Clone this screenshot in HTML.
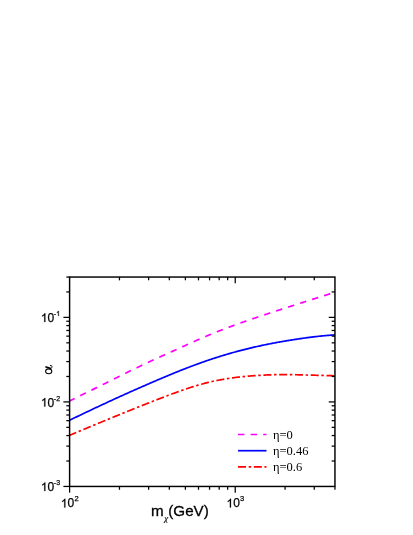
<!DOCTYPE html>
<html><head><meta charset="utf-8">
<style>
html,body{margin:0;padding:0;background:#fff;}
body{width:413px;height:535px;overflow:hidden;}
svg{display:block;}
text{font-family:"Liberation Sans",sans-serif;fill:#000;will-change:transform;}
.ser{font-family:"Liberation Serif",serif;}
</style></head><body>
<svg width="413" height="535" viewBox="0 0 413 535">
<rect width="413" height="535" fill="#fff"/>
<g fill="none" stroke-linecap="butt" stroke-linejoin="round" stroke-width="1.7">
<path d="M69.60,401.00 L70.60,400.51 L71.60,400.01 L72.59,399.52 L73.59,399.03 L74.59,398.53 L75.59,398.04 L76.58,397.54 L77.58,397.05 L78.58,396.56 L79.58,396.06 L80.57,395.57 L81.57,395.07 L82.57,394.58 L83.57,394.08 L84.56,393.59 L85.56,393.09 L86.56,392.60 L87.56,392.10 L88.55,391.61 L89.55,391.11 L90.55,390.62 L91.55,390.12 L92.54,389.63 L93.54,389.13 L94.54,388.63 L95.54,388.13 L96.53,387.64 L97.53,387.14 L98.53,386.64 L99.53,386.14 L100.52,385.65 L101.52,385.15 L102.52,384.65 L103.52,384.15 L104.51,383.65 L105.51,383.16 L106.51,382.66 L107.51,382.16 L108.50,381.66 L109.50,381.16 L110.50,380.67 L111.50,380.17 L112.49,379.67 L113.49,379.18 L114.49,378.68 L115.49,378.18 L116.49,377.69 L117.48,377.19 L118.48,376.70 L119.48,376.20 L120.48,375.71 L121.47,375.22 L122.47,374.72 L123.47,374.23 L124.47,373.74 L125.46,373.25 L126.46,372.76 L127.46,372.27 L128.46,371.78 L129.45,371.29 L130.45,370.80 L131.45,370.31 L132.45,369.83 L133.44,369.34 L134.44,368.86 L135.44,368.37 L136.44,367.89 L137.43,367.41 L138.43,366.93 L139.43,366.45 L140.43,365.97 L141.42,365.50 L142.42,365.02 L143.42,364.55 L144.42,364.08 L145.41,363.61 L146.41,363.14 L147.41,362.67 L148.41,362.20 L149.40,361.74 L150.40,361.28 L151.40,360.82 L152.40,360.36 L153.39,359.90 L154.39,359.44 L155.39,358.99 L156.39,358.53 L157.38,358.08 L158.38,357.63 L159.38,357.18 L160.38,356.73 L161.38,356.28 L162.37,355.83 L163.37,355.38 L164.37,354.93 L165.37,354.49 L166.36,354.04 L167.36,353.59 L168.36,353.14 L169.36,352.69 L170.35,352.24 L171.35,351.80 L172.35,351.35 L173.35,350.90 L174.34,350.44 L175.34,349.99 L176.34,349.54 L177.34,349.09 L178.33,348.63 L179.33,348.18 L180.33,347.72 L181.33,347.27 L182.32,346.81 L183.32,346.36 L184.32,345.90 L185.32,345.45 L186.31,345.00 L187.31,344.54 L188.31,344.09 L189.31,343.64 L190.30,343.19 L191.30,342.74 L192.30,342.29 L193.30,341.85 L194.29,341.40 L195.29,340.96 L196.29,340.51 L197.29,340.07 L198.28,339.63 L199.28,339.20 L200.28,338.76 L201.28,338.33 L202.28,337.90 L203.27,337.47 L204.27,337.04 L205.27,336.62 L206.27,336.20 L207.26,335.78 L208.26,335.36 L209.26,334.94 L210.26,334.53 L211.25,334.12 L212.25,333.71 L213.25,333.30 L214.25,332.89 L215.24,332.49 L216.24,332.09 L217.24,331.69 L218.24,331.29 L219.23,330.90 L220.23,330.51 L221.23,330.12 L222.23,329.73 L223.22,329.35 L224.22,328.97 L225.22,328.59 L226.22,328.21 L227.21,327.83 L228.21,327.46 L229.21,327.09 L230.21,326.72 L231.20,326.35 L232.20,325.98 L233.20,325.62 L234.20,325.26 L235.19,324.90 L236.19,324.54 L237.19,324.18 L238.19,323.82 L239.18,323.47 L240.18,323.11 L241.18,322.76 L242.18,322.41 L243.17,322.06 L244.17,321.71 L245.17,321.37 L246.17,321.02 L247.17,320.68 L248.16,320.33 L249.16,319.99 L250.16,319.65 L251.16,319.31 L252.15,318.97 L253.15,318.63 L254.15,318.29 L255.15,317.95 L256.14,317.61 L257.14,317.28 L258.14,316.94 L259.14,316.61 L260.13,316.27 L261.13,315.94 L262.13,315.60 L263.13,315.27 L264.12,314.94 L265.12,314.61 L266.12,314.27 L267.12,313.94 L268.11,313.61 L269.11,313.28 L270.11,312.95 L271.11,312.63 L272.10,312.30 L273.10,311.97 L274.10,311.64 L275.10,311.32 L276.09,310.99 L277.09,310.66 L278.09,310.34 L279.09,310.01 L280.08,309.69 L281.08,309.36 L282.08,309.04 L283.08,308.72 L284.07,308.40 L285.07,308.07 L286.07,307.75 L287.07,307.43 L288.06,307.11 L289.06,306.79 L290.06,306.47 L291.06,306.15 L292.06,305.83 L293.05,305.51 L294.05,305.19 L295.05,304.87 L296.05,304.55 L297.04,304.23 L298.04,303.92 L299.04,303.60 L300.04,303.28 L301.03,302.97 L302.03,302.65 L303.03,302.33 L304.03,302.02 L305.02,301.70 L306.02,301.38 L307.02,301.07 L308.02,300.75 L309.01,300.44 L310.01,300.12 L311.01,299.81 L312.01,299.50 L313.00,299.18 L314.00,298.87 L315.00,298.55 L316.00,298.24 L316.99,297.93 L317.99,297.61 L318.99,297.30 L319.99,296.99 L320.98,296.67 L321.98,296.36 L322.98,296.05 L323.98,295.74 L324.97,295.42 L325.97,295.11 L326.97,294.80 L327.97,294.49 L328.96,294.17 L329.96,293.86 L330.96,293.55 L331.96,293.24 L332.95,292.92 L333.95,292.61 L334.95,292.30" stroke="#ff00ff" stroke-dasharray="6.4 6.178" stroke-dashoffset="0.81"/>
<path d="M69.60,420.20 L70.60,419.72 L71.60,419.24 L72.59,418.77 L73.59,418.29 L74.59,417.81 L75.59,417.33 L76.58,416.86 L77.58,416.38 L78.58,415.90 L79.58,415.42 L80.57,414.95 L81.57,414.47 L82.57,414.00 L83.57,413.52 L84.56,413.04 L85.56,412.57 L86.56,412.09 L87.56,411.62 L88.55,411.15 L89.55,410.67 L90.55,410.20 L91.55,409.73 L92.54,409.26 L93.54,408.79 L94.54,408.31 L95.54,407.84 L96.53,407.38 L97.53,406.91 L98.53,406.44 L99.53,405.97 L100.52,405.50 L101.52,405.04 L102.52,404.57 L103.52,404.11 L104.51,403.65 L105.51,403.18 L106.51,402.72 L107.51,402.26 L108.50,401.80 L109.50,401.34 L110.50,400.88 L111.50,400.42 L112.49,399.96 L113.49,399.51 L114.49,399.05 L115.49,398.59 L116.49,398.14 L117.48,397.69 L118.48,397.23 L119.48,396.78 L120.48,396.33 L121.47,395.88 L122.47,395.42 L123.47,394.97 L124.47,394.53 L125.46,394.08 L126.46,393.63 L127.46,393.18 L128.46,392.73 L129.45,392.29 L130.45,391.84 L131.45,391.40 L132.45,390.95 L133.44,390.51 L134.44,390.07 L135.44,389.63 L136.44,389.19 L137.43,388.74 L138.43,388.31 L139.43,387.87 L140.43,387.43 L141.42,386.99 L142.42,386.55 L143.42,386.11 L144.42,385.68 L145.41,385.24 L146.41,384.81 L147.41,384.37 L148.41,383.94 L149.40,383.51 L150.40,383.08 L151.40,382.64 L152.40,382.21 L153.39,381.78 L154.39,381.35 L155.39,380.92 L156.39,380.50 L157.38,380.07 L158.38,379.64 L159.38,379.22 L160.38,378.79 L161.38,378.37 L162.37,377.95 L163.37,377.53 L164.37,377.11 L165.37,376.69 L166.36,376.27 L167.36,375.85 L168.36,375.44 L169.36,375.02 L170.35,374.61 L171.35,374.20 L172.35,373.79 L173.35,373.38 L174.34,372.97 L175.34,372.57 L176.34,372.16 L177.34,371.76 L178.33,371.36 L179.33,370.96 L180.33,370.56 L181.33,370.16 L182.32,369.77 L183.32,369.38 L184.32,368.99 L185.32,368.60 L186.31,368.21 L187.31,367.82 L188.31,367.44 L189.31,367.06 L190.30,366.68 L191.30,366.30 L192.30,365.93 L193.30,365.55 L194.29,365.18 L195.29,364.81 L196.29,364.45 L197.29,364.08 L198.28,363.72 L199.28,363.36 L200.28,363.00 L201.28,362.64 L202.28,362.29 L203.27,361.94 L204.27,361.59 L205.27,361.25 L206.27,360.90 L207.26,360.56 L208.26,360.22 L209.26,359.89 L210.26,359.55 L211.25,359.22 L212.25,358.89 L213.25,358.56 L214.25,358.24 L215.24,357.92 L216.24,357.60 L217.24,357.28 L218.24,356.96 L219.23,356.65 L220.23,356.34 L221.23,356.03 L222.23,355.72 L223.22,355.42 L224.22,355.12 L225.22,354.82 L226.22,354.52 L227.21,354.23 L228.21,353.94 L229.21,353.65 L230.21,353.36 L231.20,353.08 L232.20,352.79 L233.20,352.51 L234.20,352.24 L235.19,351.96 L236.19,351.69 L237.19,351.42 L238.19,351.15 L239.18,350.88 L240.18,350.62 L241.18,350.36 L242.18,350.10 L243.17,349.84 L244.17,349.59 L245.17,349.34 L246.17,349.09 L247.17,348.84 L248.16,348.59 L249.16,348.35 L250.16,348.11 L251.16,347.87 L252.15,347.64 L253.15,347.41 L254.15,347.17 L255.15,346.95 L256.14,346.72 L257.14,346.50 L258.14,346.27 L259.14,346.05 L260.13,345.84 L261.13,345.62 L262.13,345.41 L263.13,345.20 L264.12,344.99 L265.12,344.78 L266.12,344.58 L267.12,344.37 L268.11,344.17 L269.11,343.97 L270.11,343.78 L271.11,343.58 L272.10,343.39 L273.10,343.20 L274.10,343.01 L275.10,342.82 L276.09,342.64 L277.09,342.45 L278.09,342.27 L279.09,342.09 L280.08,341.91 L281.08,341.74 L282.08,341.56 L283.08,341.39 L284.07,341.22 L285.07,341.05 L286.07,340.88 L287.07,340.71 L288.06,340.55 L289.06,340.39 L290.06,340.22 L291.06,340.06 L292.06,339.91 L293.05,339.75 L294.05,339.59 L295.05,339.44 L296.05,339.29 L297.04,339.14 L298.04,338.99 L299.04,338.84 L300.04,338.69 L301.03,338.55 L302.03,338.41 L303.03,338.26 L304.03,338.12 L305.02,337.99 L306.02,337.85 L307.02,337.71 L308.02,337.58 L309.01,337.45 L310.01,337.32 L311.01,337.19 L312.01,337.07 L313.00,336.94 L314.00,336.82 L315.00,336.70 L316.00,336.59 L316.99,336.48 L317.99,336.36 L318.99,336.26 L319.99,336.15 L320.98,336.05 L321.98,335.95 L322.98,335.85 L323.98,335.76 L324.97,335.67 L325.97,335.58 L326.97,335.49 L327.97,335.41 L328.96,335.32 L329.96,335.24 L330.96,335.16 L331.96,335.08 L332.95,335.01 L333.95,334.93 L334.95,334.85" stroke="#0000ff"/>
<path d="M69.60,435.30 L70.60,434.88 L71.60,434.47 L72.59,434.05 L73.59,433.63 L74.59,433.22 L75.59,432.80 L76.58,432.38 L77.58,431.97 L78.58,431.55 L79.58,431.13 L80.57,430.72 L81.57,430.30 L82.57,429.89 L83.57,429.47 L84.56,429.05 L85.56,428.64 L86.56,428.22 L87.56,427.81 L88.55,427.39 L89.55,426.98 L90.55,426.56 L91.55,426.15 L92.54,425.73 L93.54,425.32 L94.54,424.90 L95.54,424.49 L96.53,424.07 L97.53,423.66 L98.53,423.25 L99.53,422.83 L100.52,422.42 L101.52,422.01 L102.52,421.59 L103.52,421.18 L104.51,420.77 L105.51,420.36 L106.51,419.95 L107.51,419.53 L108.50,419.12 L109.50,418.71 L110.50,418.30 L111.50,417.89 L112.49,417.48 L113.49,417.07 L114.49,416.66 L115.49,416.26 L116.49,415.85 L117.48,415.44 L118.48,415.03 L119.48,414.62 L120.48,414.22 L121.47,413.81 L122.47,413.41 L123.47,413.00 L124.47,412.59 L125.46,412.19 L126.46,411.79 L127.46,411.38 L128.46,410.98 L129.45,410.58 L130.45,410.17 L131.45,409.77 L132.45,409.37 L133.44,408.97 L134.44,408.57 L135.44,408.17 L136.44,407.77 L137.43,407.37 L138.43,406.97 L139.43,406.57 L140.43,406.18 L141.42,405.78 L142.42,405.38 L143.42,404.99 L144.42,404.59 L145.41,404.20 L146.41,403.80 L147.41,403.41 L148.41,403.02 L149.40,402.62 L150.40,402.23 L151.40,401.84 L152.40,401.45 L153.39,401.06 L154.39,400.67 L155.39,400.29 L156.39,399.90 L157.38,399.51 L158.38,399.12 L159.38,398.74 L160.38,398.35 L161.38,397.97 L162.37,397.59 L163.37,397.20 L164.37,396.82 L165.37,396.44 L166.36,396.06 L167.36,395.69 L168.36,395.31 L169.36,394.94 L170.35,394.56 L171.35,394.19 L172.35,393.82 L173.35,393.45 L174.34,393.09 L175.34,392.72 L176.34,392.36 L177.34,392.00 L178.33,391.64 L179.33,391.29 L180.33,390.93 L181.33,390.58 L182.32,390.24 L183.32,389.89 L184.32,389.55 L185.32,389.21 L186.31,388.87 L187.31,388.54 L188.31,388.21 L189.31,387.88 L190.30,387.56 L191.30,387.24 L192.30,386.92 L193.30,386.61 L194.29,386.30 L195.29,386.00 L196.29,385.70 L197.29,385.40 L198.28,385.11 L199.28,384.82 L200.28,384.53 L201.28,384.25 L202.28,383.98 L203.27,383.70 L204.27,383.44 L205.27,383.18 L206.27,382.92 L207.26,382.67 L208.26,382.42 L209.26,382.18 L210.26,381.94 L211.25,381.71 L212.25,381.48 L213.25,381.26 L214.25,381.04 L215.24,380.83 L216.24,380.62 L217.24,380.42 L218.24,380.23 L219.23,380.03 L220.23,379.84 L221.23,379.66 L222.23,379.48 L223.22,379.31 L224.22,379.14 L225.22,378.97 L226.22,378.81 L227.21,378.65 L228.21,378.50 L229.21,378.35 L230.21,378.20 L231.20,378.06 L232.20,377.92 L233.20,377.79 L234.20,377.65 L235.19,377.53 L236.19,377.40 L237.19,377.28 L238.19,377.16 L239.18,377.05 L240.18,376.94 L241.18,376.83 L242.18,376.73 L243.17,376.62 L244.17,376.53 L245.17,376.43 L246.17,376.34 L247.17,376.24 L248.16,376.16 L249.16,376.07 L250.16,375.99 L251.16,375.91 L252.15,375.83 L253.15,375.75 L254.15,375.68 L255.15,375.61 L256.14,375.54 L257.14,375.47 L258.14,375.41 L259.14,375.35 L260.13,375.29 L261.13,375.23 L262.13,375.18 L263.13,375.12 L264.12,375.07 L265.12,375.03 L266.12,374.98 L267.12,374.94 L268.11,374.90 L269.11,374.86 L270.11,374.83 L271.11,374.80 L272.10,374.77 L273.10,374.74 L274.10,374.71 L275.10,374.69 L276.09,374.67 L277.09,374.65 L278.09,374.64 L279.09,374.62 L280.08,374.61 L281.08,374.61 L282.08,374.60 L283.08,374.60 L284.07,374.60 L285.07,374.60 L286.07,374.60 L287.07,374.61 L288.06,374.61 L289.06,374.62 L290.06,374.63 L291.06,374.65 L292.06,374.66 L293.05,374.68 L294.05,374.70 L295.05,374.71 L296.05,374.73 L297.04,374.76 L298.04,374.78 L299.04,374.80 L300.04,374.83 L301.03,374.85 L302.03,374.88 L303.03,374.90 L304.03,374.93 L305.02,374.96 L306.02,374.99 L307.02,375.01 L308.02,375.04 L309.01,375.07 L310.01,375.10 L311.01,375.13 L312.01,375.16 L313.00,375.19 L314.00,375.21 L315.00,375.24 L316.00,375.27 L316.99,375.30 L317.99,375.33 L318.99,375.35 L319.99,375.38 L320.98,375.41 L321.98,375.44 L322.98,375.47 L323.98,375.49 L324.97,375.52 L325.97,375.55 L326.97,375.58 L327.97,375.61 L328.96,375.63 L329.96,375.66 L330.96,375.69 L331.96,375.72 L332.95,375.74 L333.95,375.77 L334.95,375.80" stroke="#ff0000" stroke-dasharray="8 2.637 2.5 2.637" stroke-dashoffset="0.84"/>
</g>
<rect x="69.6" y="277.05" width="265.35" height="209.40" fill="none" stroke="#000" stroke-width="1.45"/>
<g stroke="#000" stroke-width="1.25"><line x1="69.60" y1="486.45" x2="69.60" y2="492.65"/><line x1="119.46" y1="486.45" x2="119.46" y2="489.75"/><line x1="119.46" y1="277.05" x2="119.46" y2="280.35"/><line x1="148.63" y1="486.45" x2="148.63" y2="489.75"/><line x1="148.63" y1="277.05" x2="148.63" y2="280.35"/><line x1="169.32" y1="486.45" x2="169.32" y2="489.75"/><line x1="169.32" y1="277.05" x2="169.32" y2="280.35"/><line x1="185.37" y1="486.45" x2="185.37" y2="489.75"/><line x1="185.37" y1="277.05" x2="185.37" y2="280.35"/><line x1="198.49" y1="486.45" x2="198.49" y2="489.75"/><line x1="198.49" y1="277.05" x2="198.49" y2="280.35"/><line x1="209.57" y1="486.45" x2="209.57" y2="489.75"/><line x1="209.57" y1="277.05" x2="209.57" y2="280.35"/><line x1="219.18" y1="486.45" x2="219.18" y2="489.75"/><line x1="219.18" y1="277.05" x2="219.18" y2="280.35"/><line x1="227.65" y1="486.45" x2="227.65" y2="489.75"/><line x1="227.65" y1="277.05" x2="227.65" y2="280.35"/><line x1="235.23" y1="486.45" x2="235.23" y2="492.65"/><line x1="235.23" y1="277.05" x2="235.23" y2="283.25"/><line x1="285.09" y1="486.45" x2="285.09" y2="489.75"/><line x1="285.09" y1="277.05" x2="285.09" y2="280.35"/><line x1="314.26" y1="486.45" x2="314.26" y2="489.75"/><line x1="314.26" y1="277.05" x2="314.26" y2="280.35"/><line x1="334.95" y1="486.45" x2="334.95" y2="489.75"/><line x1="69.60" y1="486.45" x2="63.40" y2="486.45"/><line x1="69.60" y1="461.00" x2="66.30" y2="461.00"/><line x1="334.95" y1="461.00" x2="331.65" y2="461.00"/><line x1="69.60" y1="446.12" x2="66.30" y2="446.12"/><line x1="334.95" y1="446.12" x2="331.65" y2="446.12"/><line x1="69.60" y1="435.56" x2="66.30" y2="435.56"/><line x1="334.95" y1="435.56" x2="331.65" y2="435.56"/><line x1="69.60" y1="427.36" x2="66.30" y2="427.36"/><line x1="334.95" y1="427.36" x2="331.65" y2="427.36"/><line x1="69.60" y1="420.67" x2="66.30" y2="420.67"/><line x1="334.95" y1="420.67" x2="331.65" y2="420.67"/><line x1="69.60" y1="415.01" x2="66.30" y2="415.01"/><line x1="334.95" y1="415.01" x2="331.65" y2="415.01"/><line x1="69.60" y1="410.11" x2="66.30" y2="410.11"/><line x1="334.95" y1="410.11" x2="331.65" y2="410.11"/><line x1="69.60" y1="405.78" x2="66.30" y2="405.78"/><line x1="334.95" y1="405.78" x2="331.65" y2="405.78"/><line x1="69.60" y1="401.92" x2="63.40" y2="401.92"/><line x1="334.95" y1="401.92" x2="328.75" y2="401.92"/><line x1="69.60" y1="376.47" x2="66.30" y2="376.47"/><line x1="334.95" y1="376.47" x2="331.65" y2="376.47"/><line x1="69.60" y1="361.58" x2="66.30" y2="361.58"/><line x1="334.95" y1="361.58" x2="331.65" y2="361.58"/><line x1="69.60" y1="351.02" x2="66.30" y2="351.02"/><line x1="334.95" y1="351.02" x2="331.65" y2="351.02"/><line x1="69.60" y1="342.83" x2="66.30" y2="342.83"/><line x1="334.95" y1="342.83" x2="331.65" y2="342.83"/><line x1="69.60" y1="336.14" x2="66.30" y2="336.14"/><line x1="334.95" y1="336.14" x2="331.65" y2="336.14"/><line x1="69.60" y1="330.48" x2="66.30" y2="330.48"/><line x1="334.95" y1="330.48" x2="331.65" y2="330.48"/><line x1="69.60" y1="325.57" x2="66.30" y2="325.57"/><line x1="334.95" y1="325.57" x2="331.65" y2="325.57"/><line x1="69.60" y1="321.25" x2="66.30" y2="321.25"/><line x1="334.95" y1="321.25" x2="331.65" y2="321.25"/><line x1="69.60" y1="317.38" x2="63.40" y2="317.38"/><line x1="334.95" y1="317.38" x2="328.75" y2="317.38"/><line x1="69.60" y1="291.94" x2="66.30" y2="291.94"/><line x1="334.95" y1="291.94" x2="331.65" y2="291.94"/><line x1="69.60" y1="277.05" x2="66.30" y2="277.05"/></g>
<g stroke="#000" stroke-width="0.25" stroke-linejoin="round">
<path transform="translate(40.85,321.98) scale(0.00586,-0.00586)" d="M763 0H583V1147Q518 1085 412.5 1023T223 930V1104Q374 1175 487 1276T647 1472H763Z" fill="#000" vector-effect="non-scaling-stroke"/><text x="47.52" y="321.98" font-size="12">0</text><text x="53.79" y="315.98" font-size="7">-</text><path transform="translate(56.13,315.98) scale(0.00342,-0.00342)" d="M763 0H583V1147Q518 1085 412.5 1023T223 930V1104Q374 1175 487 1276T647 1472H763Z" fill="#000" vector-effect="non-scaling-stroke"/>
<path transform="translate(40.85,406.52) scale(0.00586,-0.00586)" d="M763 0H583V1147Q518 1085 412.5 1023T223 930V1104Q374 1175 487 1276T647 1472H763Z" fill="#000" vector-effect="non-scaling-stroke"/><text x="47.52" y="406.52" font-size="12">0</text><text x="53.79" y="400.52" font-size="7">-</text><text x="56.13" y="400.52" font-size="7">2</text>
<path transform="translate(40.85,491.05) scale(0.00586,-0.00586)" d="M763 0H583V1147Q518 1085 412.5 1023T223 930V1104Q374 1175 487 1276T647 1472H763Z" fill="#000" vector-effect="non-scaling-stroke"/><text x="47.52" y="491.05" font-size="12">0</text><text x="53.79" y="485.05" font-size="7">-</text><text x="56.13" y="485.05" font-size="7">3</text>
<path transform="translate(60.85,507.40) scale(0.00586,-0.00586)" d="M763 0H583V1147Q518 1085 412.5 1023T223 930V1104Q374 1175 487 1276T647 1472H763Z" fill="#000" vector-effect="non-scaling-stroke"/><text x="67.52" y="507.40" font-size="12">0</text><text x="74.49" y="501.20" font-size="7.5">2</text>
<path transform="translate(226.48,507.40) scale(0.00586,-0.00586)" d="M763 0H583V1147Q518 1085 412.5 1023T223 930V1104Q374 1175 487 1276T647 1472H763Z" fill="#000" vector-effect="non-scaling-stroke"/><text x="233.15" y="507.40" font-size="12">0</text><text x="240.12" y="501.20" font-size="7.5">3</text>
</g>
<text x="150.9" y="515.9" font-size="15.2" stroke="#000" stroke-width="0.3">m</text>
<text class="ser" x="164.3" y="520.9" font-size="9" font-style="italic" stroke="#000" stroke-width="0.15">χ</text>
<text x="168.3" y="515.9" font-size="15.2" stroke="#000" stroke-width="0.3">(GeV)</text>
<g fill="none" stroke="#000" stroke-linecap="round">
<ellipse cx="48.7" cy="371.25" rx="3.1" ry="2.4" stroke-width="1.05"/>
<path d="M45.4,366.7 L50.9,368.5" stroke-width="1.6" stroke-linecap="butt"/>
<path d="M50.9,368.7 Q52.3,367.6 51.9,366.1 Q51.5,365.0 50.3,365.4" stroke-width="0.95"/>
</g>
<g fill="none" stroke-width="1.7">
<line x1="238.05" y1="434.5" x2="266.5" y2="434.5" stroke="#ff00ff" stroke-dasharray="6.4 6.166"/>
<line x1="238.05" y1="450.7" x2="266.5" y2="450.7" stroke="#0000ff"/>
<line x1="238.05" y1="466.8" x2="266.5" y2="466.8" stroke="#ff0000" stroke-dasharray="8 2.637 2.5 2.637"/>
</g>
<g font-size="12.5">
<text class="ser" x="273" y="438.9">η=0</text>
<text class="ser" x="273" y="454.9">η=0.46</text>
<text class="ser" x="273" y="470.9">η=0.6</text>
</g>
</svg>
</body></html>
